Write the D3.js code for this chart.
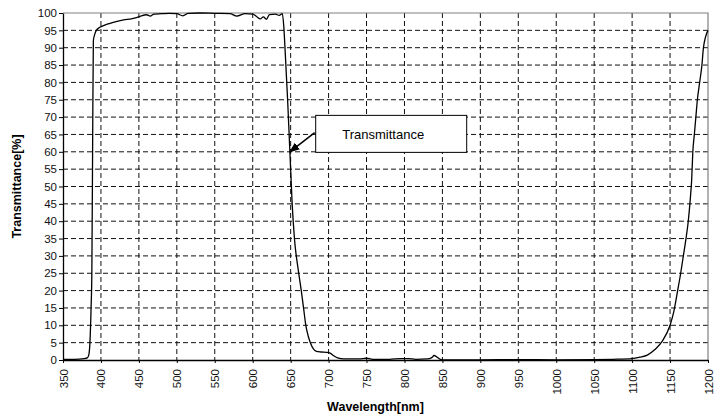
<!DOCTYPE html>
<html lang="en">
<head>
<meta charset="UTF-8">
<title>Transmittance</title>
<style>
  body { margin: 0; background: #fff; }
  svg { display: block; font-family: "Liberation Sans", Arial, sans-serif; }
</style>
</head>
<body>
<script src="https://d3js.org/d3.v7.min.js"></script>
<script>
  // Wavelength [nm] and transmittance [%]
  const wavelength = [350, 365, 378, 382, 384, 385.5, 387, 388, 389, 390, 392, 394, 398, 405, 412, 420, 430, 440, 450, 460, 465, 470, 480, 490, 500, 508, 515, 530, 550, 570, 579, 590, 600, 605, 610, 614, 618, 622, 630, 635, 639, 641, 643, 646, 649, 652, 655, 660, 664, 667, 670, 673, 676, 680, 684, 690, 697, 702, 707, 712, 720, 740, 750, 760, 780, 795, 805, 815, 830, 836, 839, 843, 847, 850, 900, 950, 1000, 1050, 1075, 1100, 1110, 1120, 1130, 1140, 1150, 1155, 1160, 1164, 1167.5, 1171, 1174, 1176.5, 1178.5, 1180, 1182, 1184, 1186, 1189, 1192, 1194, 1200];
  const transmittance = [0.2, 0.2, 0.4, 0.6, 1.5, 5, 15, 25, 60, 92, 94, 95, 95.8, 96.5, 97, 97.5, 98, 98.3, 98.9, 99.5, 99.1, 99.7, 99.8, 99.9, 99.8, 99.2, 99.9, 100, 99.9, 99.8, 99.1, 99.8, 99.7, 99.0, 98.3, 98.9, 98.2, 99.5, 99.7, 99.3, 99.8, 96, 88, 75, 60, 45, 35, 26, 20, 15, 10, 7, 5, 3.2, 2.5, 2.3, 2.2, 2.0, 1.2, 0.6, 0.3, 0.3, 0.5, 0.2, 0.2, 0.4, 0.4, 0.2, 0.3, 0.7, 1.3, 0.8, 0.2, 0.05, 0.05, 0.1, 0.05, 0.1, 0.2, 0.4, 0.8, 1.4, 3, 5.5, 10, 14, 20, 25, 30, 35, 40, 46, 52, 60, 65, 70, 75, 80, 85, 90, 95];

  const xTicks = d3.range(350, 1201, 50);
  const yTicks = d3.range(0, 101, 5);

  const seriesName = 'Transmittance';
  const xTitle = 'Wavelength[nm]';
  const yTitle = 'Transmittance[%]';

  const width = 723, height = 418;
  const margin = { top: 13, right: 15, bottom: 58, left: 63 };
  const plotW = width - margin.left - margin.right;
  const plotH = height - margin.top - margin.bottom;

  const svg = d3.select('body').append('svg')
    .attr('width', width)
    .attr('height', height);

  const xScale = d3.scaleLinear().domain([350, 1200]).range([0, plotW]);
  const yScale = d3.scaleLinear().domain([0, 100]).range([plotH, 0]);

  const g = svg.append('g').attr('transform', `translate(${margin.left},${margin.top})`);

  // dashed grid
  g.append('g')
    .selectAll('line')
    .data(yTicks.filter(d => d > 0 && d < 100))
    .join('line')
    .attr('x1', 0).attr('x2', plotW)
    .attr('y1', d => yScale(d)).attr('y2', d => yScale(d))
    .attr('stroke', '#111').attr('stroke-width', 1)
    .attr('stroke-dasharray', '5,3');

  g.append('g')
    .selectAll('line')
    .data(xTicks.filter(d => d > 350 && d < 1200))
    .join('line')
    .attr('x1', d => xScale(d)).attr('x2', d => xScale(d))
    .attr('y1', 0).attr('y2', plotH)
    .attr('stroke', '#111').attr('stroke-width', 1)
    .attr('stroke-dasharray', '5,3');

  // frame: top and right grey
  g.append('path')
    .attr('d', `M0,0H${plotW}V${plotH}`)
    .attr('fill', 'none')
    .attr('stroke', '#808080')
    .attr('stroke-width', 1.2);

  // axes
  const xAxis = g.append('g')
    .attr('transform', `translate(0,${plotH})`)
    .call(d3.axisBottom(xScale).tickValues(xTicks).tickSize(3).tickSizeOuter(0).tickFormat(d3.format('d')));
  xAxis.selectAll('text')
    .attr('transform', 'rotate(-90)')
    .attr('x', -9).attr('y', 0).attr('dy', '0.35em')
    .style('text-anchor', 'end');

  const yAxis = g.append('g')
    .call(d3.axisLeft(yScale).tickValues(yTicks).tickSize(4).tickSizeOuter(0));

  [xAxis, yAxis].forEach(a => {
    a.selectAll('text').attr('font-size', 11.5).attr('fill', '#111')
      .attr('font-family', '"Liberation Sans", Arial, sans-serif');
    a.select('.domain').attr('stroke', '#000').attr('stroke-width', 1.3);
    a.selectAll('.tick line').attr('stroke', '#000');
  });
  yAxis.selectAll('text').attr('x', -6);

  // curve
  const pts = wavelength.map((w, i) => [w, transmittance[i]]);
  const line = d3.line()
    .x(d => xScale(d[0]))
    .y(d => yScale(d[1]))
    .curve(d3.curveMonotoneX);
  g.append('path')
    .datum(pts)
    .attr('fill', 'none')
    .attr('stroke', '#000')
    .attr('stroke-width', 1.3)
    .attr('d', line);

  // annotation box + arrow
  const boxX = xScale(683), boxY = yScale(70.5);
  const boxW = 151, boxH = 37;
  g.append('rect')
    .attr('x', boxX).attr('y', boxY)
    .attr('width', boxW).attr('height', boxH)
    .attr('fill', '#fff').attr('stroke', '#000').attr('stroke-width', 1);
  g.append('text')
    .attr('x', boxX + boxW / 2 - 8).attr('y', boxY + boxH / 2 + 5)
    .attr('text-anchor', 'middle')
    .attr('font-size', 13)
    .text(seriesName);

  svg.append('defs').append('marker')
    .attr('id', 'arr')
    .attr('viewBox', '0 0 10 10')
    .attr('refX', 9).attr('refY', 5)
    .attr('markerWidth', 7).attr('markerHeight', 7)
    .attr('orient', 'auto')
    .append('path').attr('d', 'M0,1L10,5L0,9z').attr('fill', '#000');

  g.append('line')
    .attr('x1', boxX - 1).attr('y1', yScale(65.5))
    .attr('x2', xScale(649)).attr('y2', yScale(60))
    .attr('stroke', '#000').attr('stroke-width', 1.5)
    .attr('marker-end', 'url(#arr)');

  // axis titles
  svg.append('text')
    .attr('x', margin.left + plotW / 2 - 10).attr('y', 411)
    .attr('text-anchor', 'middle')
    .attr('font-size', 12.5).attr('font-weight', 'bold')
    .text(xTitle);

  svg.append('text')
    .attr('transform', `translate(21,${margin.top + plotH / 2}) rotate(-90)`)
    .attr('text-anchor', 'middle')
    .attr('font-size', 12.5).attr('font-weight', 'bold')
    .text(yTitle);
</script>
</body>
</html>
